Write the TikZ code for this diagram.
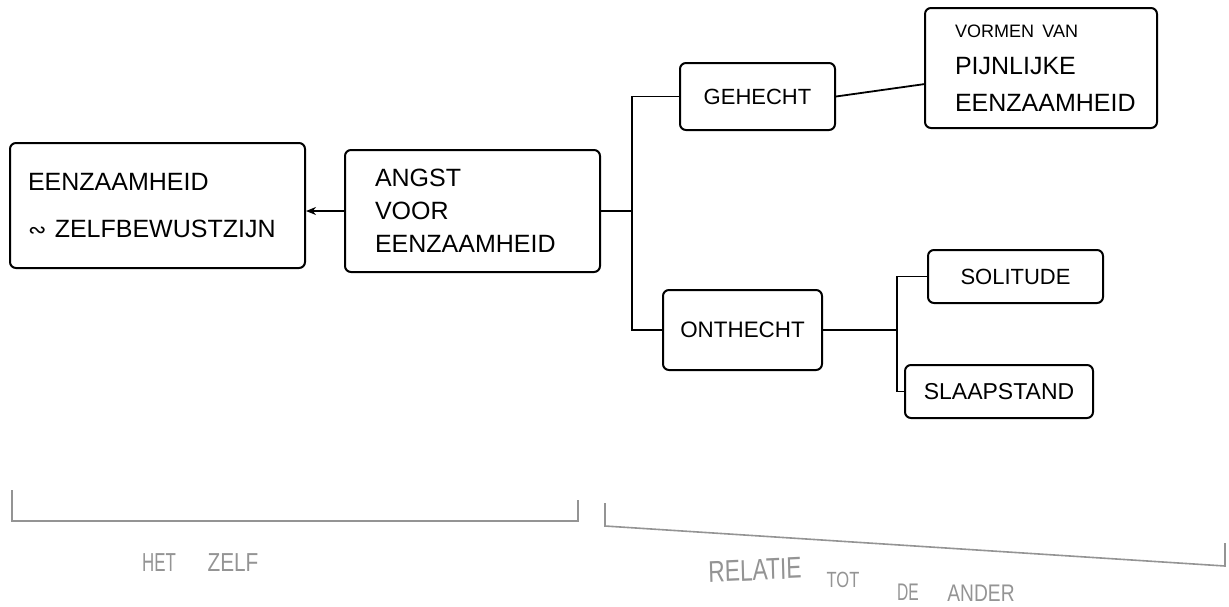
\documentclass[tikz,border=0pt]{standalone}
\usepackage{fontspec}
\setmainfont{Liberation Sans}
\newfontfamily\symfont{DejaVu Sans}
\usetikzlibrary{arrows.meta}

\tikzset{
  box/.style={draw=black, line width=1pt, rounded corners=3pt, minimum width=#1},
  lbl/.style={text=black!42, inner sep=0pt},
  bracket/.style={draw=black!42, line width=0.8pt},
  link/.style={draw=black, line width=0.9pt}
}

\begin{document}
\begin{tikzpicture}[x=0.5pt, y=-0.5pt]
  \useasboundingbox (0,0) rectangle (1229,606);

  % left part: the self
  \node[box=147.5pt, minimum height=62.5pt, text width=129.5pt, align=left, inner xsep=9pt,
        font=\fontsize{12.5}{23.5}\selectfont] (A) at (157.5,205.5)
        {EENZAAMHEID\\{\symfont\fontsize{11}{11}\selectfont ∾} ZELFBEWUSTZIJN};
  \node[box=127.5pt, minimum height=61pt, text width=97.5pt, align=left, inner xsep=15pt,
        font=\fontsize{12.5}{16.5}\selectfont] (B) at (472.5,211)
        {ANGST\\VOOR\\EENZAAMHEID};

  % right part: relation to the other
  \node[box=77.5pt, minimum height=33.5pt, font=\fontsize{11}{13}\selectfont] (G) at (757.5,96.5) {GEHECHT};
  \node[box=116pt, minimum height=60pt, text width=86pt, align=left, inner xsep=15pt,
        font=\fontsize{12.5}{18.5}\selectfont] (V) at (1041,68)
        {{\fontsize{9}{12}\selectfont VORMEN VAN}\\PIJNLIJKE\\EENZAAMHEID};
  \node[box=79.5pt, minimum height=40pt, font=\fontsize{11.2}{13}\selectfont] (O) at (742.5,330) {ONTHECHT};
  \node[box=87.5pt, minimum height=26.5pt, font=\fontsize{11}{13}\selectfont] (S) at (1015.5,276.5) {SOLITUDE};
  \node[box=94pt, minimum height=26.5pt, font=\fontsize{11.5}{13}\selectfont] (L) at (999,391.5) {SLAAPSTAND};

  % connectors
  \coordinate (j1) at (632,211);
  \coordinate (j2) at (897,330);
  \coordinate (vin) at (925,84);
  \draw[link, -{Stealth[length=5pt,width=4pt]}] (B.west) -- (A.east |- B.west);
  \draw[link] (B.east) -- (j1);
  \draw[link] (G.west) -| (j1) |- (O.west);
  \draw[link] (G.east) -- (vin);
  \draw[link] (O.east) -- (j2);
  \draw[link] (S.west) -| (j2) |- (L.west);

  % grouping brackets
  \coordinate (b1) at (12,490);
  \coordinate (b2) at (12,521);
  \coordinate (b3) at (578,521);
  \coordinate (b4) at (578,500);
  \draw[bracket] (b1) -- (b2) -- (b3) -- (b4);
  \coordinate (c1) at (605,503);
  \coordinate (c2) at (605,526);
  \coordinate (c3) at (1225,566);
  \coordinate (c4) at (1225,543);
  \draw[bracket] (c1) -- (c2) -- (c3) -- (c4);

  % group labels
  \node[lbl, font=\fontsize{13}{15}\selectfont, xscale=0.65] (h1) at (159,563) {HET};
  \node[lbl, font=\fontsize{13}{15}\selectfont, xscale=0.8] (h2) at (233,563) {ZELF};
  \node[lbl, font=\fontsize{15}{17}\selectfont, xscale=0.76, rotate=2] (r1) at (755,570) {RELATIE};
  \node[lbl, font=\fontsize{11}{13}\selectfont, xscale=0.75] (r2) at (843,580) {TOT};
  \node[lbl, font=\fontsize{12}{14}\selectfont, xscale=0.65] (r3) at (908,592) {DE};
  \node[lbl, font=\fontsize{12}{14}\selectfont, xscale=0.8] (r4) at (981,593) {ANDER};
\end{tikzpicture}
\end{document}
